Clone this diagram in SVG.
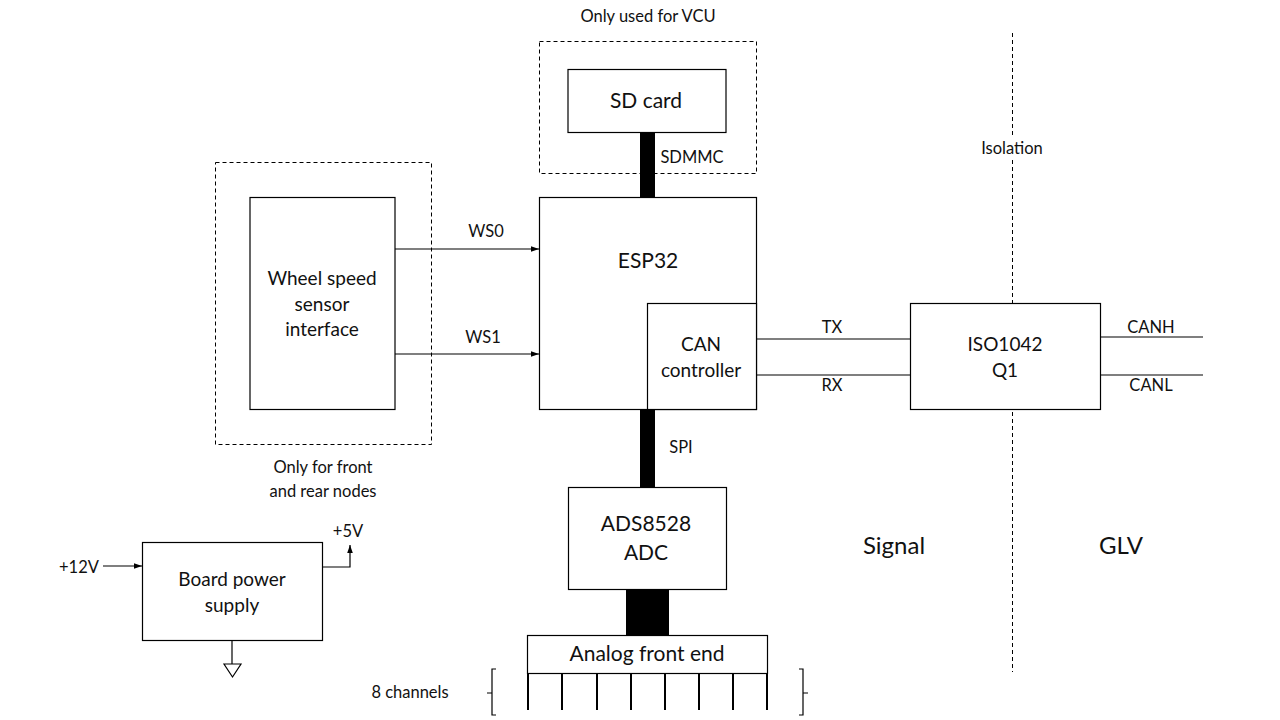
<svg xmlns="http://www.w3.org/2000/svg" width="1280" height="720" viewBox="0 0 1280 720">
<defs>
<style>
text{font-family:"Lato","Open Sans","Liberation Sans",sans-serif;fill:#111;text-anchor:middle}
.box{fill:#fff;stroke:#000;stroke-width:1.2}
.dash{fill:none;stroke:#000;stroke-width:1;stroke-dasharray:4 3}
.ln{fill:none;stroke:#000;stroke-width:1.2}
.ch{stroke:#000;stroke-width:2}
.bus{fill:#000}
.s16{font-size:16.5px}
.s18{font-size:19px}
.s20{font-size:21px}
.s22{font-size:24px}
</style>
<marker id="arr" viewBox="0 0 10 10" refX="10" refY="5" markerWidth="8" markerHeight="8" orient="auto-start-reverse" markerUnits="userSpaceOnUse">
<path d="M0,1.5 L10,5 L0,8.5 z" fill="#000"/>
</marker>
</defs>
<rect width="1280" height="720" fill="#fff"/>

<g id="isolation">
<line class="dash" x1="1012.5" y1="33" x2="1012.5" y2="136"/>
<line class="dash" x1="1012.5" y1="160" x2="1012.5" y2="672"/>
<text class="s16" x="1012" y="154">Isolation</text>
</g>

<g id="connectors">
<rect class="bus" x="640" y="132" width="15" height="65"/>
<rect class="bus" x="640" y="409" width="15" height="78"/>
<rect class="bus" x="626" y="589" width="43" height="46"/>
<line class="ln" x1="395" y1="249" x2="539" y2="249" marker-end="url(#arr)"/>
<line class="ln" x1="395" y1="354" x2="539" y2="354" marker-end="url(#arr)"/>
<line class="ln" x1="756" y1="339" x2="910" y2="339"/>
<line class="ln" x1="756" y1="375" x2="910" y2="375"/>
<line class="ln" x1="1101" y1="337" x2="1203" y2="337"/>
<line class="ln" x1="1101" y1="375" x2="1203" y2="375"/>
<line class="ln" x1="103" y1="566" x2="142" y2="566" marker-end="url(#arr)"/>
<polyline class="ln" points="322,567 350,567 350,545" marker-end="url(#arr)"/>
<line class="ln" x1="232" y1="641" x2="232" y2="664"/>
<polygon class="ln" points="224,664 241,664 232.5,677"/>
<text class="s16" x="692" y="163">SDMMC</text>
<text class="s16" x="681" y="453">SPI</text>
<text class="s16" x="486" y="237">WS0</text>
<text class="s16" x="483" y="343">WS1</text>
<text class="s16" x="832" y="333">TX</text>
<text class="s16" x="832" y="391">RX</text>
<text class="s16" x="1151" y="333">CANH</text>
<text class="s16" x="1151" y="391">CANL</text>
<text class="s16" x="79" y="573">+12V</text>
<text class="s16" x="348" y="537">+5V</text>
</g>

<g id="vcu-group">
<rect class="dash" x="539.5" y="41.5" width="217" height="132"/>
<text class="s16" x="648" y="22">Only used for VCU</text>
</g>

<g id="sd-card">
<rect class="box" x="568" y="69.5" width="158" height="63"/>
<text class="s20" x="646" y="108">SD card</text>
</g>

<g id="wheel-group">
<rect class="dash" x="215.5" y="162.5" width="216" height="282"/>
<text class="s16" x="323" y="473">Only for front</text>
<text class="s16" x="323" y="497">and rear nodes</text>
</g>

<g id="wheel-speed">
<rect class="box" x="250" y="197.5" width="145" height="212"/>
<text class="s18" x="322" y="285">Wheel speed</text>
<text class="s18" x="322" y="311">sensor</text>
<text class="s18" x="322" y="336">interface</text>
</g>

<g id="esp32">
<rect class="box" x="539.5" y="197.5" width="217" height="212"/>
<text class="s20" x="648" y="268">ESP32</text>
</g>

<g id="can-controller">
<rect class="box" x="647.5" y="303.5" width="109" height="106"/>
<text class="s18" x="701" y="351">CAN</text>
<text class="s18" x="701" y="377">controller</text>
</g>

<g id="iso1042">
<rect class="box" x="910.5" y="303.5" width="190" height="106"/>
<text class="s18" x="1005" y="351">ISO1042</text>
<text class="s18" x="1005" y="377">Q1</text>
</g>

<g id="ads8528">
<rect class="box" x="568.5" y="487.5" width="158" height="102"/>
<text class="s20" x="646" y="531">ADS8528</text>
<text class="s20" x="646" y="560">ADC</text>
</g>

<g id="power-supply">
<rect class="box" x="142.5" y="542.5" width="180" height="98"/>
<text class="s18" x="232" y="586">Board power</text>
<text class="s18" x="232" y="612">supply</text>
</g>

<g id="analog-front-end">
<rect class="box" x="527.5" y="635.5" width="240" height="38"/>
<text class="s20" x="647" y="661">Analog front end</text>
<line class="ch" x1="528" y1="673" x2="528" y2="710"/>
<line class="ch" x1="562" y1="673" x2="562" y2="710"/>
<line class="ch" x1="597" y1="673" x2="597" y2="710"/>
<line class="ch" x1="631" y1="673" x2="631" y2="710"/>
<line class="ch" x1="665" y1="673" x2="665" y2="710"/>
<line class="ch" x1="699" y1="673" x2="699" y2="710"/>
<line class="ch" x1="733" y1="673" x2="733" y2="710"/>
<line class="ch" x1="767" y1="673" x2="767" y2="710"/>
<path class="ln" d="M496,669 H492 V715 H496 M492,693 H487" stroke-width="1"/>
<path class="ln" d="M799,669 H803 V715 H799 M803,693 H808" stroke-width="1"/>
<text class="s16" x="410" y="698">8 channels</text>
</g>

<g id="labels">
<text class="s22" x="894" y="554">Signal</text>
<text class="s22" x="1121" y="554">GLV</text>
</g>
</svg>
